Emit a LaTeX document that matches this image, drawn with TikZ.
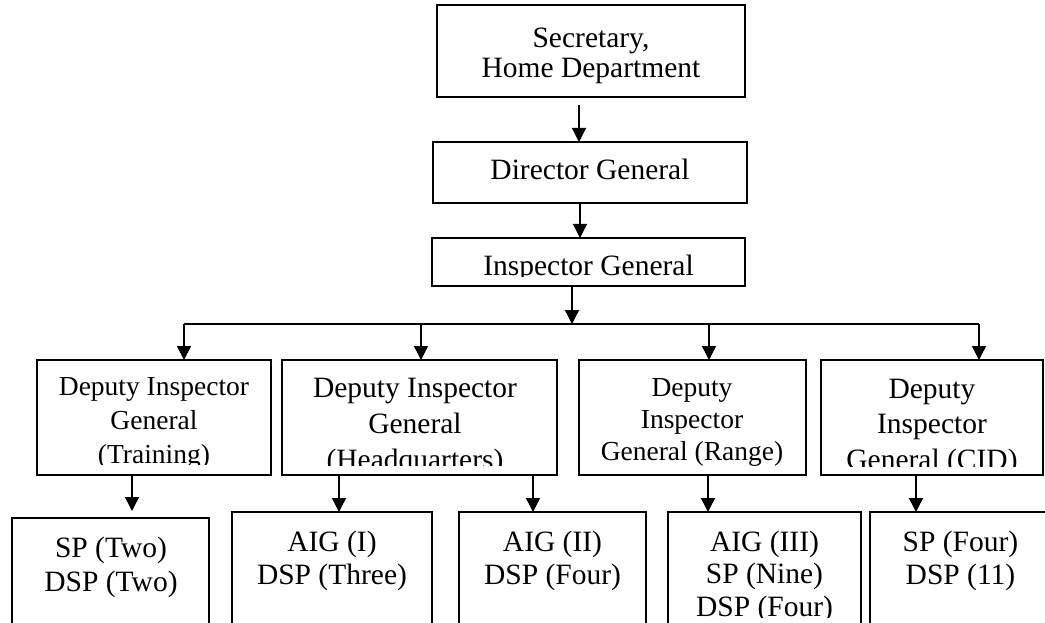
\documentclass[tikz,border=0pt]{standalone}
\usepackage{fontspec}
\setmainfont{Liberation Serif}
\usetikzlibrary{arrows.meta}
\tikzset{
  orgbox/.style={draw, line width=1.5pt, inner sep=0pt, outer sep=0pt, anchor=north west},
  conn/.style={line width=1.3pt, -{Triangle[length=14pt,width=14pt]}},
  busline/.style={line width=1.3pt},
  txt/.style={anchor=base, inner sep=0pt, outer sep=0pt},
}
% box: name, x1, y1, x2, y2
\newcommand{\bx}[5]{\node[orgbox, minimum width={#4pt-#2pt}, minimum height={#5pt-#3pt}] (#1) at (#2,#3) {};}
% text: name, cx, first baseline y, clip y, clip x1, clip y1, clip x2, content
\newcommand{\tx}[8]{\begin{scope}\clip (#5,#6) rectangle (#7,#4);
  \node[txt] (#1) at (#2,#3) {\parbox[t]{330pt}{\centering #8}};\end{scope}}
\newcommand{\fA}[1]{\fontsize{29.5}{#1}\selectfont}
\newcommand{\fB}[1]{\fontsize{27.5}{#1}\selectfont}
\begin{document}
\begin{tikzpicture}[x=1pt,y=-1pt]
\clip (0,0) rectangle (1045,623);
% boxes
\bx{sec}{437}{5}{745}{97}
\bx{dg}{433}{142}{747}{203}
\bx{ig}{432}{238}{745}{286}
\bx{d1}{37}{360}{271}{475}
\bx{d2}{282}{360}{557}{475}
\bx{d3}{579}{360}{806}{475}
\bx{d4}{821}{360}{1043}{475}
\bx{b1}{12}{518}{209}{650}
\bx{b2}{232}{512}{432}{650}
\bx{b3}{459}{512}{646}{650}
\bx{b4}{668}{512}{861}{650}
\bx{b5}{870}{512}{1051}{650}
% texts
\tx{sec-t}{591}{48}{95}{437}{5}{745}{\fA{30}Secretary,\\Home Department}
\tx{dg-t}{590}{180}{200}{433}{142}{747}{\fA{34}Director General}
\tx{ig-t}{588.5}{275}{276}{432}{238}{745}{\fA{34}Inspector General}
\tx{d1-t}{154}{395}{464}{37}{360}{271}{\fB{34}Deputy Inspector\\General\\(Training)}
\tx{d2-t}{415}{397}{465}{282}{360}{557}{\fA{36}Deputy Inspector\\General\\(Headquarters)}
\tx{d3-t}{692}{396}{466}{579}{360}{806}{\fB{32}Deputy\\Inspector\\General (Range)}
\tx{d4-t}{932}{398}{466}{821}{360}{1043}{\fA{35.5}Deputy\\Inspector\\General (CID)}
\tx{b1-t}{111}{557}{617}{12}{518}{209}{\fA{34}SP (Two)\\DSP (Two)}
\tx{b2-t}{332}{551}{617}{232}{512}{432}{\fA{33}AIG (I)\\DSP (Three)}
\tx{b3-t}{552.5}{551}{617}{459}{512}{646}{\fA{33}AIG (II)\\DSP (Four)}
\tx{b4-t}{764.5}{551}{617}{668}{512}{861}{\fA{32.5}AIG (III)\\SP (Nine)\\DSP (Four)}
\tx{b5-t}{960.5}{551}{617}{870}{512}{1051}{\fA{33}SP (Four)\\DSP (11)}
% connectors
\draw[conn] ([xshift=-12pt,yshift=-8pt]sec.south) -- ([xshift=-12pt]sec.south |- dg.north);
\draw[conn] ([xshift=-10pt]dg.south) -- ([xshift=-10pt]dg.south |- ig.north);
\coordinate (hub) at (572,324);
\coordinate (busL) at (184,324);
\coordinate (busR) at (979,324);
\coordinate (j2) at (421,324);
\coordinate (j3) at (709,324);
\draw[conn] ([yshift=-1pt]ig.south -| hub) -- (hub);
\draw[busline] (busL) -- (busR);
\draw[conn] (busL) -- (busL |- d1.north);
\draw[conn] (j2) -- (j2 |- d2.north);
\draw[conn] (j3) -- (j3 |- d3.north);
\draw[conn] (busR) -- (busR |- d4.north);
\draw[conn, shorten >=7pt] ([xshift=-22pt]d1.south) -- ([xshift=-22pt]d1.south |- b1.north);
\draw[conn] ([xshift=-80.5pt]d2.south) -- ([xshift=-80.5pt]d2.south |- b2.north);
\draw[conn] ([xshift=113.5pt]d2.south) -- ([xshift=113.5pt]d2.south |- b3.north);
\draw[conn] ([xshift=15.5pt]d3.south) -- ([xshift=15.5pt]d3.south |- b4.north);
\draw[conn] ([xshift=-16pt]d4.south) -- ([xshift=-16pt]d4.south |- b5.north);
\end{tikzpicture}
\end{document}
